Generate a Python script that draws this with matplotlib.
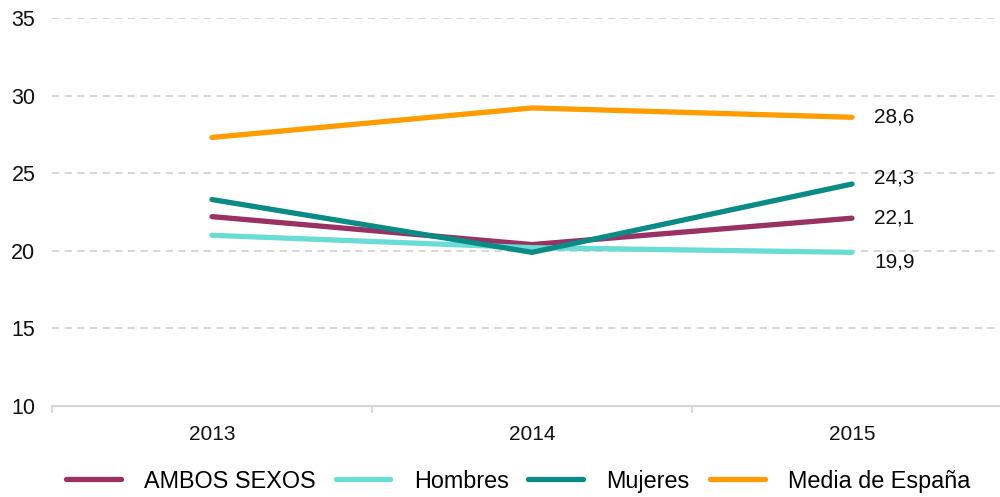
import numpy as np
import matplotlib
matplotlib.use('Agg')
import matplotlib.pyplot as plt

plt.rcParams['font.family'] = ['Liberation Sans', 'DejaVu Sans']

years = ['2013', '2014', '2015']
ambos = [22.2, 20.4, 22.1]
hombres = [21.0, 20.2, 19.9]
mujeres = [23.3, 19.9, 24.3]
media = [27.3, 29.2, 28.6]

series = [
    ('AMBOS SEXOS', ambos, '#9a3163'),
    ('Hombres', hombres, '#6adcd6'),
    ('Mujeres', mujeres, '#0a8b85'),
    ('Media de España', media, '#ff9c00'),
]
# vertical nudge of end labels (points)
label_dy = {'AMBOS SEXOS': 0, 'Hombres': -7, 'Mujeres': 4, 'Media de España': 0}

fig = plt.figure(figsize=(10, 4.97), dpi=100)
ax = fig.add_axes([0.052, 0.183, 0.96, 0.781])

x = np.arange(len(years))
for name, vals, col in series:
    ax.plot(x, vals, color=col, lw=3.8, solid_capstyle='round', label=name)
    ax.annotate(f'{vals[-1]:.1f}'.replace('.', ','), (x[-1], vals[-1]),
                xytext=(16, label_dy[name]), textcoords='offset points',
                va='center', ha='left', fontsize=15, color='#111111')

ax.set_xlim(-0.5, len(years) - 0.5)
ax.set_ylim(10, 35)
ax.set_yticks(range(10, 36, 5))
ax.set_xticks(x)
ax.set_xticklabels(years)
ax.set_xticks(np.arange(-0.5, len(years), 1), minor=True)

for y in range(15, 36, 5):
    ax.axhline(y, color='#d3d3d3', lw=1.3, ls=(0, (4, 3)), zorder=0)

for s in ['top', 'right', 'left']:
    ax.spines[s].set_visible(False)
ax.spines['bottom'].set_color('#d6d6d6')
ax.spines['bottom'].set_linewidth(1.5)

ax.tick_params(axis='y', length=0, pad=12, labelsize=15.5, labelcolor='#111111')
ax.tick_params(axis='x', which='major', length=0, pad=14, labelsize=15, labelcolor='#111111')
ax.tick_params(axis='x', which='minor', length=5, width=1.2, color='#d6d6d6')

fig.legend(loc='center', bbox_to_anchor=(0.518, 0.032), ncol=4, frameon=False,
           fontsize=16.8, handlelength=2.35, handletextpad=1.0, columnspacing=0.85,
           borderaxespad=0)

fig.savefig('out.png', dpi=100)
